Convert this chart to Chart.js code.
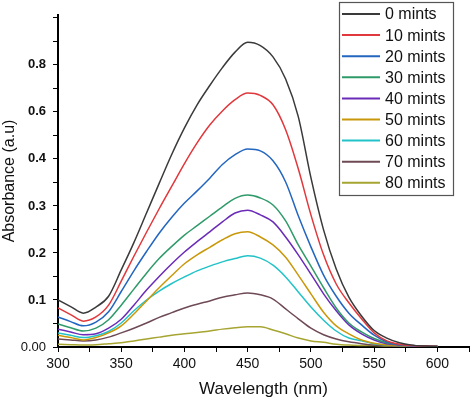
<!DOCTYPE html>
<html>
<head>
<meta charset="utf-8">
<script src="https://cdn.jsdelivr.net/npm/chart.js@4"></script>
<style>
  html, body { margin: 0; padding: 0; background: #fff; }
  #wrap { width: 473px; height: 401px; }
</style>
</head>
<body>
<div id="wrap"><canvas id="uvChart" width="473" height="401"></canvas></div>
<script>
// wavelength grid (nm)
const wavelengths = [300,310,320,330,340,350,360,370,380,390,400,410,420,430,440,450,460,470,480,490,500,510,520,530,540,550,560,570,580,590,600];

// absorbance per time step (values in the plot's linear axis units)
const m0  = [0.100,0.086,0.072,0.085,0.108,0.164,0.222,0.285,0.348,0.410,0.466,0.515,0.556,0.594,0.627,0.648,0.641,0.617,0.570,0.490,0.360,0.249,0.166,0.106,0.066,0.035,0.019,0.009,0.004,0.002,0.001];
const m10 = [0.083,0.069,0.055,0.064,0.089,0.140,0.193,0.244,0.294,0.342,0.390,0.434,0.472,0.502,0.526,0.540,0.535,0.515,0.462,0.379,0.281,0.196,0.134,0.094,0.060,0.030,0.013,0.006,0.003,0.002,0.001];
const m20 = [0.064,0.054,0.045,0.053,0.075,0.118,0.162,0.203,0.242,0.276,0.306,0.332,0.359,0.388,0.409,0.421,0.417,0.396,0.351,0.279,0.213,0.153,0.108,0.072,0.047,0.025,0.011,0.005,0.003,0.002,0.001];
const m30 = [0.049,0.041,0.034,0.040,0.058,0.089,0.123,0.157,0.188,0.214,0.238,0.258,0.278,0.298,0.316,0.323,0.317,0.302,0.268,0.217,0.172,0.126,0.083,0.051,0.032,0.018,0.009,0.005,0.003,0.002,0.001];
const m40 = [0.038,0.032,0.026,0.028,0.040,0.059,0.089,0.121,0.150,0.177,0.202,0.224,0.245,0.266,0.285,0.291,0.281,0.266,0.234,0.196,0.155,0.113,0.077,0.047,0.028,0.015,0.007,0.004,0.002,0.001,0.001];
const m50 = [0.025,0.020,0.015,0.020,0.030,0.045,0.070,0.098,0.126,0.152,0.177,0.196,0.212,0.228,0.241,0.245,0.234,0.217,0.191,0.153,0.113,0.074,0.045,0.028,0.015,0.008,0.004,0.003,0.002,0.002,0.002];
const m60 = [0.030,0.025,0.020,0.024,0.033,0.051,0.077,0.100,0.119,0.135,0.149,0.162,0.172,0.181,0.188,0.194,0.189,0.174,0.149,0.117,0.085,0.057,0.034,0.019,0.013,0.007,0.004,0.003,0.002,0.001,0.001];
const m70 = [0.017,0.015,0.013,0.015,0.021,0.030,0.040,0.051,0.063,0.073,0.083,0.091,0.098,0.106,0.111,0.115,0.111,0.102,0.081,0.060,0.040,0.026,0.017,0.011,0.007,0.004,0.003,0.002,0.002,0.001,0.001];
const m80 = [0.006,0.005,0.004,0.005,0.007,0.009,0.013,0.017,0.021,0.025,0.028,0.031,0.034,0.038,0.041,0.043,0.043,0.036,0.028,0.019,0.013,0.010,0.006,0.004,0.003,0.003,0.002,0.002,0.002,0.002,0.002];

const seriesNames = ['0 mints','10 mints','20 mints','30 mints','40 mints','50 mints','60 mints','70 mints','80 mints'];
const seriesValues = [m0, m10, m20, m30, m40, m50, m60, m70, m80];
const seriesColors = ['#3a3a3a','#e0383c','#2366c0','#2f9a6a','#6a2bb8','#c9980a','#22c3c8','#6e4a55','#a6a532'];

// tick labels as printed on the original axis (one per 0.1 step)
const yTickLabels = ['0.00','0.1','0.2','0.3','0.4','0.6','0.8'];
const xTickLabels = [300,350,400,450,500,550,600];

const FONT = "'Liberation Sans', Arial, sans-serif";

// boxed legend inside the top-right corner
const boxLegend = {
    id: 'boxLegend',
    afterDraw(chart) {
        const ctx = chart.ctx;
        ctx.save();
        ctx.strokeStyle = '#555';
        ctx.lineWidth = 1.2;
        ctx.fillStyle = '#fff';
        ctx.fillRect(339, 2, 114, 193);
        ctx.strokeRect(339.5, 2.5, 114, 193);
        ctx.font = '16px ' + FONT;
        ctx.textBaseline = 'middle';
        chart.data.datasets.forEach(function (ds, i) {
            const y = 14 + i * 21.1;
            ctx.strokeStyle = ds.borderColor;
            ctx.lineWidth = 2;
            ctx.beginPath();
            ctx.moveTo(342, y);
            ctx.lineTo(380, y);
            ctx.stroke();
            ctx.fillStyle = '#111';
            ctx.fillText(ds.label, 385, y + 1);
        });
        ctx.restore();
    }
};

new Chart(document.getElementById('uvChart').getContext('2d'), {
    type: 'line',
    data: {
        datasets: seriesNames.map(function (name, i) {
            return {
                label: name,
                data: wavelengths.map(function (w, j) { return { x: w, y: seriesValues[i][j] }; }),
                borderColor: seriesColors[i],
                borderWidth: 1.5,
                pointRadius: 0,
                fill: false,
                cubicInterpolationMode: 'monotone'
            };
        })
    },
    options: {
        responsive: false,
        animation: false,
        layout: { padding: { top: 15, right: 3, left: 0, bottom: 0 } },
        plugins: {
            legend: { display: false },
            tooltip: { enabled: false }
        },
        scales: {
            x: {
                type: 'linear',
                min: 300,
                max: 625,
                afterFit: function (s) { s.height = 54; },
                border: { color: '#000', width: 2 },
                grid: { drawOnChartArea: false, drawTicks: true, tickLength: 5, color: '#000' },
                ticks: {
                    stepSize: 25,
                    includeBounds: false,
                    maxRotation: 0,
                    autoSkip: false,
                    padding: 4,
                    color: '#111',
                    font: { family: FONT, size: 14 },
                    callback: function (v) { return xTickLabels.indexOf(v) >= 0 ? String(v) : ''; }
                },
                title: {
                    display: true,
                    text: 'Wavelength (nm)',
                    color: '#111',
                    font: { family: FONT, size: 17 },
                    padding: { top: 0, bottom: 1 }
                }
            },
            y: {
                type: 'linear',
                min: 0,
                max: 0.706,
                afterFit: function (s) { s.width = 58; },
                border: { color: '#000', width: 2 },
                grid: { drawOnChartArea: false, drawTicks: true, tickLength: 5, color: '#000' },
                ticks: {
                    stepSize: 0.05,
                    includeBounds: false,
                    autoSkip: false,
                    padding: 7,
                    color: '#111',
                    font: function (c) {
                        const zero = c.tick && c.tick.value === 0;
                        return { family: FONT, size: 13, weight: zero ? 'normal' : 'bold' };
                    },
                    callback: function (v) {
                        const k = Math.round(v / 0.1);
                        if (Math.abs(v - k * 0.1) > 1e-6) return '';
                        return yTickLabels[k] || '';
                    }
                },
                title: {
                    display: true,
                    text: 'Absorbance (a.u)',
                    color: '#111',
                    font: { family: FONT, size: 16 },
                    padding: { top: 0, bottom: 0 }
                }
            }
        }
    },
    plugins: [boxLegend]
});
</script>
</body>
</html>
